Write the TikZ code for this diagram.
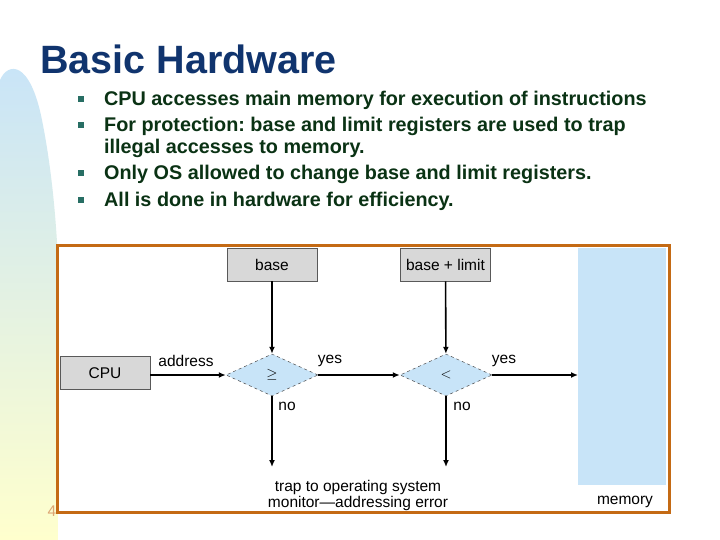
\documentclass[tikz,border=0pt]{standalone}
\usepackage{fontspec}
\setmainfont{Liberation Sans}
\usetikzlibrary{shapes.geometric,arrows.meta}
\definecolor{ttl}{RGB}{16,52,110}
\definecolor{txt}{RGB}{10,50,20}
\definecolor{bul}{RGB}{40,110,100}
\definecolor{frame}{RGB}{196,106,20}
\definecolor{mem}{RGB}{200,228,248}
\definecolor{gbox}{RGB}{216,216,216}
\frenchspacing
\begin{document}
\begin{tikzpicture}[x=1pt,y=-1pt,
  gray box/.style={draw=gray!70!black,line width=0.6pt,fill=gbox,minimum width=90pt,minimum height=33pt,inner sep=0pt,font=\fontsize{15.5}{15.5}\selectfont},
  dec/.style={diamond,draw=black!70,dashed,line width=0.5pt,fill=mem,minimum width=92pt,minimum height=42pt,inner sep=0pt,aspect=2.2,font=\fontsize{15}{15}\selectfont},
  lab/.style={font=\fontsize{15.5}{15.5}\selectfont,inner sep=0pt},
  arr/.style={line width=1.6pt,-{Latex[length=7pt,width=6pt]}},
  bl/.style={font=\bfseries\fontsize{19.8}{21}\selectfont,text=txt,anchor=base west,inner sep=0pt},
  bm/.style={fill=bul,minimum size=6pt,inner sep=0pt}]
\useasboundingbox (0,0) rectangle (720,540);
\fill[white] (0,0) rectangle (720,540);
% left decorative band
\shade[top color={rgb,255:red,200;green,228;blue,248},bottom color={rgb,255:red,255;green,255;blue,205}]
  (0,80) .. controls (8,62) and (30,60) .. (42,120) .. controls (52,170) and (56,220) .. (58,260) -- (58,540) -- (0,540) -- cycle;
% title
\node[anchor=base west,inner sep=0pt,text=ttl,font=\bfseries\fontsize{39.5}{40}\selectfont] (title) at (40,74) {Basic Hardware};
% bullets
\node[bm] (b1) at (81,99) {};
\node[bl] (t1) at (104,106) {CPU accesses main memory for execution of instructions};
\node[bm] (b2) at (81,125) {};
\node[bl] (t2) at (104,132) {For protection: base and limit registers are used to trap};
\node[bl] (t2b) at (104,154) {illegal accesses to memory.};
\node[bm] (b3) at (81,173) {};
\node[bl] (t3) at (104,180) {Only OS allowed to change base and limit registers.};
\node[bm] (b4) at (81,200) {};
\node[bl] (t4) at (104,207) {All is done in hardware for efficiency.};
% diagram frame
\fill[white] (58,246) rectangle (668,511);
\node[fill=mem,minimum width=88pt,minimum height=237pt,inner sep=0pt,anchor=north west] (mem) at (578,248) {};
\node[lab,anchor=base] (memtxt) at (625,504) {memory};
\node[gray box] (base) at (272,264.5) {base};
\node[gray box] (bl) at (445.5,264.5) {base + limit};
\node[gray box] (cpu) at (105,373) {CPU};
\node[dec] (d1) at (272,375) {$\geq$};
\node[dec] (d2) at (446,375) {$<$};
\coordinate (e1) at (272,467);
\coordinate (e2) at (446,467);
\draw[arr] (base) -- (d1);
\draw[arr] (bl) -- (d2);
\draw[arr] (cpu.east|-d1) -- (d1.west);
\draw[arr] (d1.east) -- (d2.west);
\draw[arr] (d2.east) -- (mem.west|-d2);
\node[lab] (addr) at (186,361) {address};
\node[lab] (y1) at (330,361) {yes};
\node[lab] (y2) at (504,361) {yes};
\node[lab] (n1) at (287,406) {no};
\node[lab] (n2) at (462,406) {no};
\draw[arr] (d1.south) -- (e1);
\draw[arr] (d2.south) -- (e2);
\node[lab,align=center,anchor=north] (trap) at (358,480) {trap to operating system\\[1pt]monitor---addressing error};
\draw[frame,line width=3pt] (57,245) rectangle (669,512);
\node[lab,text=frame!60,anchor=base] (num) at (52,516) {4};
\end{tikzpicture}
\end{document}
